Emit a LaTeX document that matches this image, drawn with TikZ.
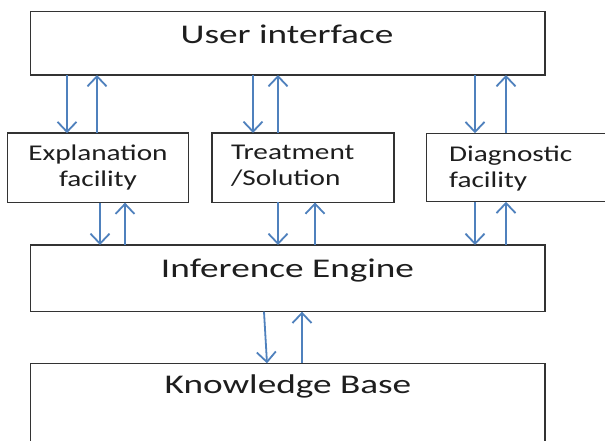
\documentclass[tikz,border=0pt]{standalone}
\usepackage{fontspec}
\setmainfont{Carlito}[FakeStretch=1.3]
\newfontfamily\bigfont{Carlito}[FakeStretch=1.38]
\usetikzlibrary{arrows.meta}
\definecolor{arrblue}{RGB}{79,129,189}
\definecolor{txtgray}{RGB}{30,30,30}
\tikzset{
  box/.style={draw=black!80, line width=1.3pt, inner sep=0pt, outer sep=0pt, fill=white},
  bigtxt/.style={font=\bigfont\fontsize{27}{30}\selectfont, text=txtgray, inner sep=0pt, anchor=base},
  smalltxt/.style={font=\fontsize{22.5}{26}\selectfont, text=txtgray, inner sep=0pt, anchor=base},
  arr/.style={draw=arrblue, line width=1.8pt, -{Straight Barb[length=10pt,width=19pt]}}
}
\begin{document}
\begin{tikzpicture}[x=1pt,y=-1pt]
\useasboundingbox (0,0) rectangle (605,441);
\clip (0,0) rectangle (605,441);
\fill[white] (0,0) rectangle (605,441);
% boxes
\node[box, minimum width=514.3pt, minimum height=63.3pt] (ui) at (287.85,43.35) {};
\node[box, minimum width=181pt, minimum height=69.5pt] (ex) at (97.8,167.9) {};
\node[box, minimum width=182pt, minimum height=69.5pt] (tr) at (303,167.7) {};
\node[box, minimum width=214pt, minimum height=68.5pt] (dg) at (533.7,167.5) {};
\node[box, minimum width=514.3pt, minimum height=66.7pt] (ie) at (287.85,278.35) {};
\node[box, minimum width=514.3pt, minimum height=117pt] (kb) at (287.85,421.8) {};
% texts (base of a multi-line node = last line)
\node[bigtxt] (uit) at (287,43.3) {User interface};
\node[smalltxt, align=center] (ext) at (98,186.7) {Explanation\\facility};
\node[smalltxt, align=left, anchor=base west] (trt) at (231,185.5) {Treatment\\/Solution};
\node[smalltxt, align=left, anchor=base west] (dgt) at (449,187) {Diagnostic\\facility};
\node[bigtxt] (iet) at (287.5,277) {Inference Engine};
\node[bigtxt] (kbt) at (288,393) {Knowledge Base};
% arrow columns
\coordinate (a1) at (67,0);  \coordinate (a2) at (97,0);
\coordinate (a3) at (253,0); \coordinate (a4) at (278,0);
\coordinate (a5) at (475,0); \coordinate (a6) at (506,0);
\coordinate (b1) at (100,0); \coordinate (b2) at (125,0);
\coordinate (b3) at (278,0); \coordinate (b4) at (315,0);
\coordinate (b5) at (475,0); \coordinate (b6) at (506,0);
\coordinate (c1) at (264,0); \coordinate (c2) at (267,0); \coordinate (c3) at (302,0);
% UI <-> small boxes
\draw[arr] (ui.south -| a1) -- (ex.north -| a1);
\draw[arr] (ex.north -| a2) -- (ui.south -| a2);
\draw[arr] (ui.south -| a3) -- (tr.north -| a3);
\draw[arr] (tr.north -| a4) -- (ui.south -| a4);
\draw[arr] (ui.south -| a5) -- (dg.north -| a5);
\draw[arr] (dg.north -| a6) -- (ui.south -| a6);
% small boxes <-> IE
\draw[arr] (ex.south -| b1) -- (ie.north -| b1);
\draw[arr] (ie.north -| b2) -- (ex.south -| b2);
\draw[arr] (tr.south -| b3) -- (ie.north -| b3);
\draw[arr] (ie.north -| b4) -- (tr.south -| b4);
\draw[arr] (dg.south -| b5) -- (ie.north -| b5);
\draw[arr] (ie.north -| b6) -- (dg.south -| b6);
% IE <-> KB
\draw[arr] (ie.south -| c1) -- (kb.north -| c2);
\draw[arr] (kb.north -| c3) -- (ie.south -| c3);
\end{tikzpicture}
\end{document}
